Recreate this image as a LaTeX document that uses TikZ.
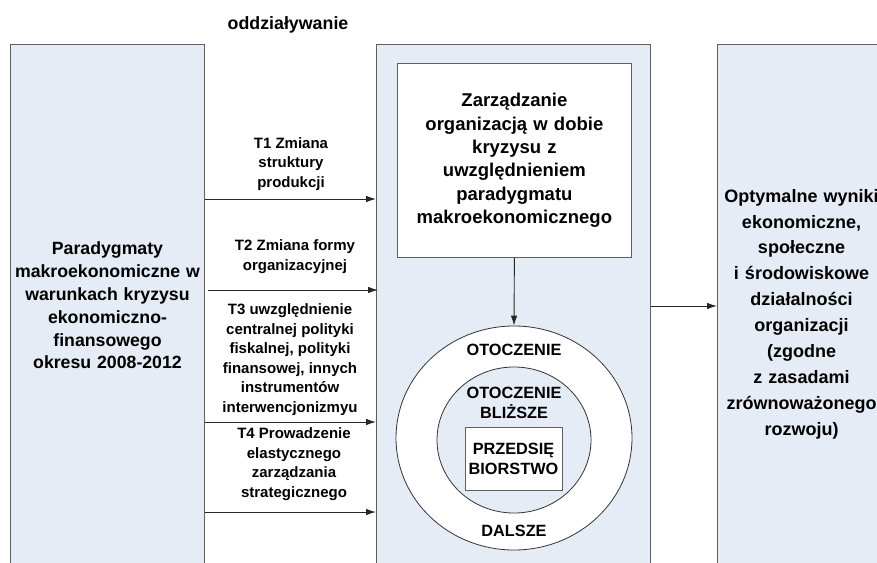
\documentclass[tikz,border=0pt]{standalone}
\usepackage{fontspec}
\setmainfont{Liberation Sans}
\usetikzlibrary{arrows.meta,shapes.geometric}
\definecolor{panel}{RGB}{230,236,246}
\definecolor{frame}{RGB}{95,95,95}
\begin{document}
\begin{tikzpicture}[x=1pt,y=-1pt,
  panelbox/.style={draw=frame, fill=panel, line width=1pt, inner sep=0pt, align=center},
  whitebox/.style={draw=frame, fill=white, line width=0.8pt, inner sep=0pt, align=center},
  flow/.style={draw=black!85, line width=0.9pt, -{Latex[length=10pt,width=6.5pt]}},
  lbl/.style={align=center, inner sep=0pt, font=\bfseries\fontsize{15}{19.5}\selectfont},
  ring/.style={ellipse, draw=black!80, line width=0.8pt, inner sep=0pt},
  caps/.style={align=center, inner sep=0pt, font=\bfseries\fontsize{16.3}{20}\selectfont},
]
\useasboundingbox (0,0) rectangle (877,562);
\clip (0,0) rectangle (877,562);

% three main panels, running past the lower edge
\node[panelbox, anchor=north west, minimum width=194pt, minimum height=522pt,
      text width=190pt, font=\bfseries\fontsize{17.7}{22.8}\selectfont] (src) at (10,44)
  {Paradygmaty\\makroekonomiczne w\\warunkach kryzysu\\ekonomiczno-\\finansowego\\okresu 2008-2012};
\node[panelbox, anchor=north west, minimum width=274pt, minimum height=540pt] (mid) at (376,44) {};
\node[panelbox, anchor=north west, minimum width=168pt, minimum height=539pt,
      text width=166pt, font=\bfseries\fontsize{18}{25.9}\selectfont] (result) at (717,44)
  {Optymalne wyniki\\ekonomiczne,\\społeczne\\i środowiskowe\\działalności\\organizacji\\(zgodne\\z zasadami\\zrównoważonego\\rozwoju)};

% management box inside the middle panel
\node[whitebox, anchor=north west, minimum width=234pt, minimum height=194pt,
      text width=230pt, font=\bfseries\fontsize{18.5}{23.4}\selectfont] (mgmt) at (397,63)
  {Zarządzanie\\organizacją w dobie\\kryzysu z\\uwzględnieniem\\paradygmatu\\makroekonomicznego};

% environment rings and the enterprise
\node[ring, fill=white, minimum width=236pt, minimum height=224pt] (outer) at (514,438) {};
\node[ring, fill=panel, minimum width=154pt, minimum height=146pt] (inner) at (514,440) {};
\node[whitebox, minimum width=97pt, minimum height=63pt, caps] (firm) at (513.5,458.5)
  {PRZEDSIĘ\\BIORSTWO};
\node[caps] (farA) at (514,350) {OTOCZENIE};
\node[caps] (near) at (514,403) {OTOCZENIE\\BLIŻSZE};
\node[caps] (farB) at (514,531) {DALSZE};

\draw[flow] (mgmt.south) -- (outer.north);

% influence channels
\node[font=\bfseries\fontsize{17.8}{22}\selectfont, inner sep=0pt] (head) at (288,25) {oddziaływanie};

\coordinate (r1) at (0,199);
\coordinate (r2) at (0,290);
\coordinate (r3) at (0,422);
\coordinate (r4) at (0,512);
\coordinate (r5) at (0,306);

\node[lbl] (t1) at (291,164) {T1 Zmiana\\struktury\\produkcji};
\node[lbl] (t2) at (295,256.5) {T2 Zmiana formy\\organizacyjnej};
\node[lbl] (t3) at (290,359.5) {T3 uwzględnienie\\centralnej polityki\\fiskalnej, polityki\\finansowej, innych\\instrumentów\\interwencjonizmyu};
\node[lbl] (t4) at (294,464) {T4 Prowadzenie\\elastycznego\\zarządzania\\strategicznego};

\draw[flow] (src.east |- r1) -- (mid.west |- r1);
\draw[flow] ([xshift=3pt]src.east |- r2) -- ([xshift=2pt]mid.west |- r2);
\draw[flow] (src.east |- r3) -- (mid.west |- r3);
\draw[flow] (src.east |- r4) -- (mid.west |- r4);

\draw[flow] (mid.east |- r5) -- (result.west |- r5);
\end{tikzpicture}
\end{document}
